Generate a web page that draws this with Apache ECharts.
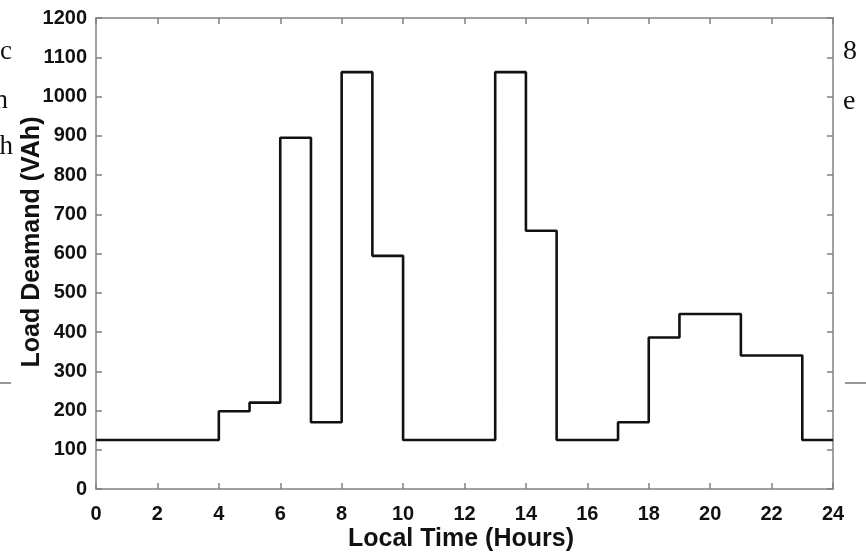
<!DOCTYPE html>
<html>
<head>
<meta charset="utf-8">
<script src="https://cdn.jsdelivr.net/npm/echarts@6/dist/echarts.min.js"></script>
<style>
  html, body { margin: 0; padding: 0; background: #fff; }
  #chart { width: 866px; height: 557px; }
</style>
</head>
<body>
<div id="chart"></div>
<script>
// Hour at which each load level begins (last entry closes the day)
const stepHours = [0, 4, 5, 6, 7, 8, 9, 10, 13, 14, 15, 17, 18, 19, 21, 23, 24];
// Load demand (VAh) holding from that hour until the next one
const loadDemand = [125, 198, 220, 895, 170, 1062, 594, 125, 1062, 658, 125, 170, 386, 446, 340, 125, 125];
const xTicks = [0, 2, 4, 6, 8, 10, 12, 14, 16, 18, 20, 22, 24];
const yTicks = [0, 100, 200, 300, 400, 500, 600, 700, 800, 900, 1000, 1100, 1200];

const seriesData = stepHours.map((h, i) => [h, loadDemand[i]]);

const axisGrey = '#808080';
const tickFont = { fontFamily: 'Liberation Sans, Arial, sans-serif', fontWeight: 'bold', fontSize: 20, color: '#111' };
const serif = 'Liberation Serif, DejaVu Serif, serif';

const chart = echarts.init(document.getElementById('chart'), null, { renderer: 'canvas' });

const baseX = {
  type: 'value', min: xTicks[0], max: xTicks[xTicks.length - 1], interval: 2,
  axisLine: { show: true, onZero: false, lineStyle: { color: axisGrey, width: 1.5 } },
  axisTick: { show: true, inside: true, length: 6, lineStyle: { color: axisGrey, width: 1.5 } },
  splitLine: { show: false }
};
const baseY = {
  type: 'value', min: yTicks[0], max: yTicks[yTicks.length - 1], interval: 100,
  axisLine: { show: true, onZero: false, lineStyle: { color: axisGrey, width: 1.5 } },
  axisTick: { show: true, inside: true, length: 6, lineStyle: { color: axisGrey, width: 1.5 } },
  splitLine: { show: false }
};

chart.setOption({
  animation: false,
  backgroundColor: '#fff',
  grid: { left: 96, right: 33, top: 18, bottom: 68, containLabel: false },
  xAxis: [
    Object.assign({}, baseX, { position: 'bottom', axisLabel: Object.assign({ margin: 15, formatter: v => String(v) }, tickFont) }),
    Object.assign({}, baseX, { position: 'top', axisLabel: { show: false } })
  ],
  yAxis: [
    Object.assign({}, baseY, { position: 'left', axisLabel: Object.assign({ margin: 9, formatter: v => String(v) }, tickFont) }),
    Object.assign({}, baseY, { position: 'right', axisLabel: { show: false } })
  ],
  series: [{
    type: 'line',
    step: 'end',
    xAxisIndex: 0, yAxisIndex: 0,
    data: seriesData,
    symbol: 'none',
    lineStyle: { color: '#111', width: 2.6 }
  }],
  graphic: [
    { type: 'text', left: 348, top: 527, style: { text: 'Local Time (Hours)', font: 'bold 25px "Liberation Sans", Arial, sans-serif', fill: '#111' } },
    { type: 'text', x: 32, y: 242, rotation: Math.PI / 2,
      style: { text: 'Load Deamand (VAh)', font: 'bold 25px "Liberation Sans", Arial, sans-serif', fill: '#111', align: 'center', verticalAlign: 'middle' } },
    // neighbouring page text cut by the figure edges
    { type: 'text', x: 12, y: 38, style: { text: 'ac', font: '27px ' + serif, fill: '#111', align: 'right', verticalAlign: 'alphabetic' } },
    { type: 'text', x: 8, y: 87, style: { text: 'n', font: '27px ' + serif, fill: '#111', align: 'right', verticalAlign: 'alphabetic' } },
    { type: 'text', x: 13, y: 133, style: { text: 'h', font: '27px ' + serif, fill: '#111', align: 'right', verticalAlign: 'alphabetic' } },
    { type: 'text', x: 843, y: 38, style: { text: '8', font: '28px ' + serif, fill: '#111', align: 'left', verticalAlign: 'alphabetic' } },
    { type: 'text', x: 843, y: 88, style: { text: 'e', font: '28px ' + serif, fill: '#111', align: 'left', verticalAlign: 'alphabetic' } },
    { type: 'line', shape: { x1: 0, y1: 383, x2: 11, y2: 383 }, style: { stroke: '#333', lineWidth: 1 } },
    { type: 'line', shape: { x1: 845, y1: 383, x2: 866, y2: 383 }, style: { stroke: '#333', lineWidth: 1 } }
  ]
});
</script>
</body>
</html>
